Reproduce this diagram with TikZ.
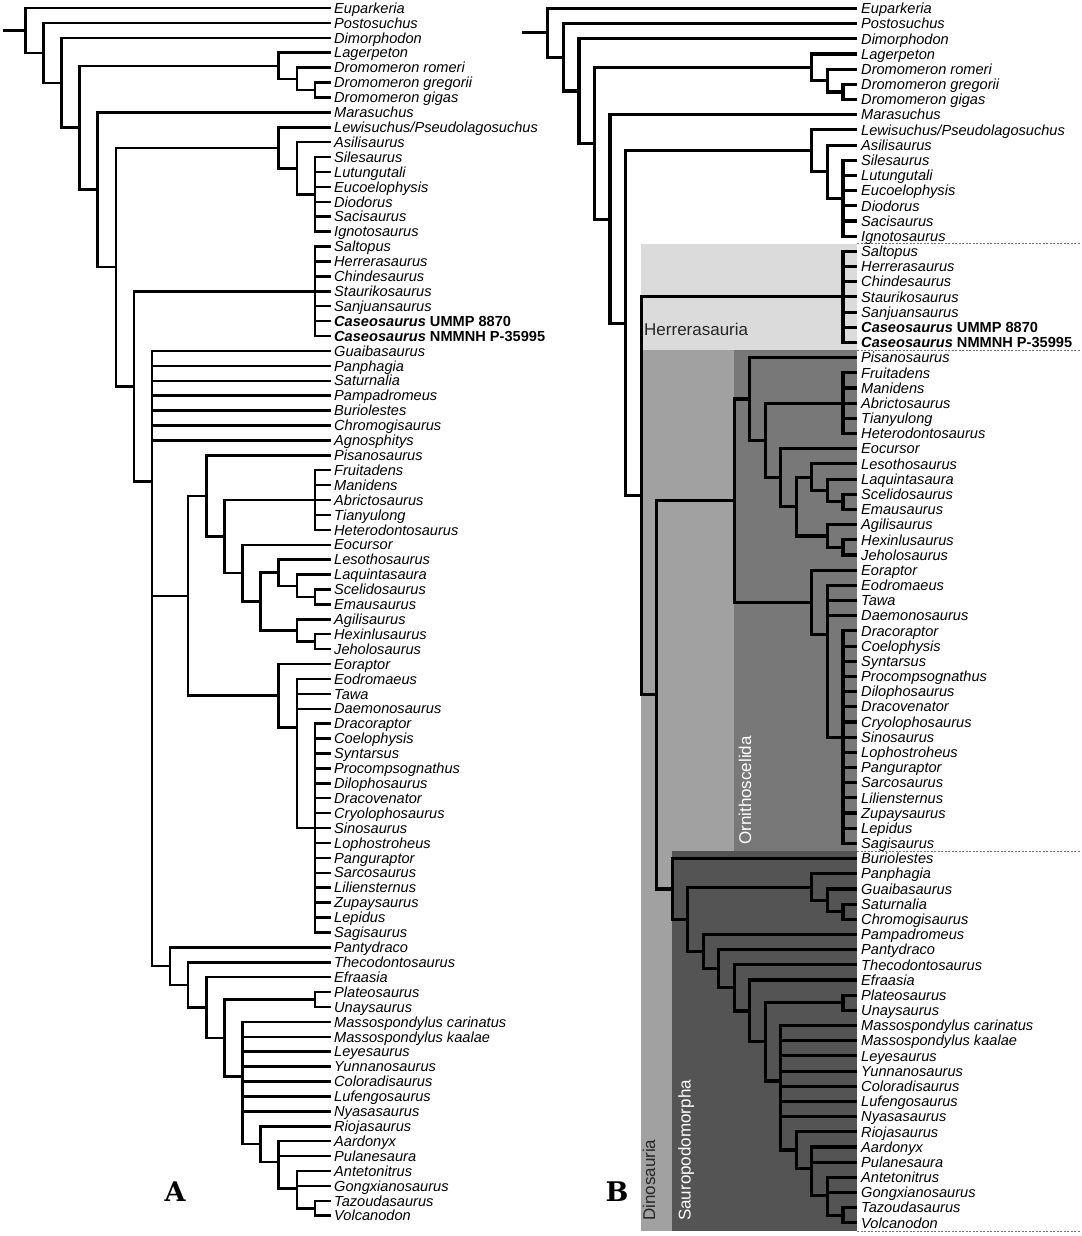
\documentclass[tikz,border=0pt]{standalone}
\usepackage{fontspec}
\setmainfont{Liberation Sans}
\newfontfamily\panelfont{DejaVu Serif}
\usepackage{tikz}
\definecolor{herrgray}{gray}{0.86}
\definecolor{dinogray}{gray}{0.63}
\definecolor{ornigray}{gray}{0.47}
\definecolor{saurgray}{gray}{0.33}
\newcommand{\casname}[1]{\textbf{Caseosaurus} \textup{\textbf{#1}}}

\begin{document}
\begin{tikzpicture}[x=1pt,y=-1pt]
  \tikzstyle{taxon}=[anchor=west,inner xsep=3pt,inner ysep=0pt,text height=10.4pt,text depth=0pt,font=\fontsize{14.6}{15}\selectfont\itshape]
  \tikzstyle{branch}=[line width=2.5pt]
  \tikzstyle{clade}=[inner sep=0pt,font=\fontsize{17}{17}\selectfont]
  \tikzstyle{groupline}=[black!55,line width=0.8pt,dash pattern=on 2pt off 1.5pt]
  \tikzstyle{panel}=[inner sep=0pt,font=\panelfont\bfseries\fontsize{27}{27}\selectfont]

  \useasboundingbox (0,0) rectangle (1081,1236);

  \fill[dinogray] (641.1,350) rectangle (857,1231);
  \fill[herrgray] (641.1,243.8) rectangle (857,350);
  \fill[ornigray] (734.3,350) rectangle (857,851);
  \fill[saurgray] (672.1,851) rectangle (857,1231);
  \draw[groupline] (857,243.8) -- (1081,243.8) (857,350) -- (1081,350)
                   (857,851) -- (1081,851) (857,1231.5) -- (1081,1231.5);

  \node[clade,anchor=base west,text=black!85] (herr) at (644,335) {Herrerasauria};
  \node[clade,anchor=base west,rotate=90,text=black!85] (dino) at (655,1221) {Dinosauria};
  \node[clade,anchor=base west,rotate=90,text=white] (saur) at (690.5,1221) {Sauropodomorpha};
  \node[clade,anchor=base west,rotate=90,text=white] (orni) at (751,845) {Ornithoscelida};

  \node[panel] (panA) at (175,1192) {A};
  \node[panel] (panB) at (617,1192) {B};

  %% tree A
  \begin{scope}[shift={(0,8)},y=-14.91pt]
  \node[taxon] (aEupa) at (331,0)  {Euparkeria};
  \node[taxon] (aPost) at (331,1)  {Postosuchus};
  \node[taxon] (aDimo) at (331,2)  {Dimorphodon};
  \node[taxon] (aLage) at (331,3)  {Lagerpeton};
  \node[taxon] (aDrRo) at (331,4)  {Dromomeron romeri};
  \node[taxon] (aDrGr) at (331,5)  {Dromomeron gregorii};
  \node[taxon] (aDrGi) at (331,6)  {Dromomeron gigas};
  \node[taxon] (aMara) at (331,7)  {Marasuchus};
  \node[taxon] (aLewi) at (331,8)  {Lewisuchus/Pseudolagosuchus};
  \node[taxon] (aAsil) at (331,9)  {Asilisaurus};
  \node[taxon] (aSile) at (331,10) {Silesaurus};
  \node[taxon] (aLutu) at (331,11) {Lutungutali};
  \node[taxon] (aEuco) at (331,12) {Eucoelophysis};
  \node[taxon] (aDiod) at (331,13) {Diodorus};
  \node[taxon] (aSaci) at (331,14) {Sacisaurus};
  \node[taxon] (aIgno) at (331,15) {Ignotosaurus};
  \node[taxon] (aSalt) at (331,16) {Saltopus};
  \node[taxon] (aHerr) at (331,17) {Herrerasaurus};
  \node[taxon] (aChin) at (331,18) {Chindesaurus};
  \node[taxon] (aStau) at (331,19) {Staurikosaurus};
  \node[taxon] (aSanj) at (331,20) {Sanjuansaurus};
  \node[taxon] (aCaUM) at (331,21) {\casname{UMMP 8870}};
  \node[taxon] (aCaNM) at (331,22) {\casname{NMMNH P-35995}};
  \node[taxon] (aGuai) at (331,23) {Guaibasaurus};
  \node[taxon] (aPanp) at (331,24) {Panphagia};
  \node[taxon] (aSatu) at (331,25) {Saturnalia};
  \node[taxon] (aPamp) at (331,26) {Pampadromeus};
  \node[taxon] (aBuri) at (331,27) {Buriolestes};
  \node[taxon] (aChro) at (331,28) {Chromogisaurus};
  \node[taxon] (aAgno) at (331,29) {Agnosphitys};
  \node[taxon] (aPisa) at (331,30) {Pisanosaurus};
  \node[taxon] (aFrui) at (331,31) {Fruitadens};
  \node[taxon] (aMani) at (331,32) {Manidens};
  \node[taxon] (aAbri) at (331,33) {Abrictosaurus};
  \node[taxon] (aTian) at (331,34) {Tianyulong};
  \node[taxon] (aHete) at (331,35) {Heterodontosaurus};
  \node[taxon] (aEocu) at (331,36) {Eocursor};
  \node[taxon] (aLeso) at (331,37) {Lesothosaurus};
  \node[taxon] (aLaqu) at (331,38) {Laquintasaura};
  \node[taxon] (aScel) at (331,39) {Scelidosaurus};
  \node[taxon] (aEmau) at (331,40) {Emausaurus};
  \node[taxon] (aAgil) at (331,41) {Agilisaurus};
  \node[taxon] (aHexi) at (331,42) {Hexinlusaurus};
  \node[taxon] (aJeho) at (331,43) {Jeholosaurus};
  \node[taxon] (aEora) at (331,44) {Eoraptor};
  \node[taxon] (aEodr) at (331,45) {Eodromaeus};
  \node[taxon] (aTawa) at (331,46) {Tawa};
  \node[taxon] (aDaem) at (331,47) {Daemonosaurus};
  \node[taxon] (aDrac) at (331,48) {Dracoraptor};
  \node[taxon] (aCoel) at (331,49) {Coelophysis};
  \node[taxon] (aSynt) at (331,50) {Syntarsus};
  \node[taxon] (aProc) at (331,51) {Procompsognathus};
  \node[taxon] (aDilo) at (331,52) {Dilophosaurus};
  \node[taxon] (aDrav) at (331,53) {Dracovenator};
  \node[taxon] (aCryo) at (331,54) {Cryolophosaurus};
  \node[taxon] (aSino) at (331,55) {Sinosaurus};
  \node[taxon] (aLoph) at (331,56) {Lophostroheus};
  \node[taxon] (aPang) at (331,57) {Panguraptor};
  \node[taxon] (aSarc) at (331,58) {Sarcosaurus};
  \node[taxon] (aLili) at (331,59) {Liliensternus};
  \node[taxon] (aZupa) at (331,60) {Zupaysaurus};
  \node[taxon] (aLepi) at (331,61) {Lepidus};
  \node[taxon] (aSagi) at (331,62) {Sagisaurus};
  \node[taxon] (aPant) at (331,63) {Pantydraco};
  \node[taxon] (aThec) at (331,64) {Thecodontosaurus};
  \node[taxon] (aEfra) at (331,65) {Efraasia};
  \node[taxon] (aPlat) at (331,66) {Plateosaurus};
  \node[taxon] (aUnay) at (331,67) {Unaysaurus};
  \node[taxon] (aMaCa) at (331,68) {Massospondylus carinatus};
  \node[taxon] (aMaKa) at (331,69) {Massospondylus kaalae};
  \node[taxon] (aLeye) at (331,70) {Leyesaurus};
  \node[taxon] (aYunn) at (331,71) {Yunnanosaurus};
  \node[taxon] (aColo) at (331,72) {Coloradisaurus};
  \node[taxon] (aLufe) at (331,73) {Lufengosaurus};
  \node[taxon] (aNyas) at (331,74) {Nyasasaurus};
  \node[taxon] (aRioj) at (331,75) {Riojasaurus};
  \node[taxon] (aAard) at (331,76) {Aardonyx};
  \node[taxon] (aPula) at (331,77) {Pulanesaura};
  \node[taxon] (aAnte) at (331,78) {Antetonitrus};
  \node[taxon] (aGong) at (331,79) {Gongxianosaurus};
  \node[taxon] (aTazo) at (331,80) {Tazoudasaurus};
  \node[taxon] (aVolc) at (331,81) {Volcanodon};

  \coordinate (aRoot)  at (3,1.50385);
  \coordinate (acN1)   at (25.3,1.50385);
  \coordinate (acN2)   at (43.4,3.0077);
  \coordinate (acN3)   at (61.5,5.0154);
  \coordinate (acN4)   at (79.6,8.0308);
  \coordinate (acLag)  at (278.7,3.875);
  \coordinate (acDro1) at (296.8,4.75);
  \coordinate (acDro2) at (314.9,5.5);
  \coordinate (acN5)   at (97.7,12.1866);
  \coordinate (acN6)   at (115.8,17.3732);
  \coordinate (acSil3) at (278.7,9.375);
  \coordinate (acSil2) at (296.8,10.75);
  \coordinate (acSil1) at (314.9,12.5);
  \coordinate (acN7)   at (133.9,25.3714);
  \coordinate (acHer)  at (314.9,19);
  \coordinate (acDin)  at (152.0,31.7428);
  \coordinate (acOrs)  at (188.2,39.4258);
  \coordinate (acOrn)  at (206.3,32.7266);
  \coordinate (acHeE)  at (224.4,35.4531);
  \coordinate (acHet)  at (314.9,33);
  \coordinate (acEoc)  at (242.5,37.9063);
  \coordinate (acGen)  at (260.6,39.8125);
  \coordinate (acLes)  at (278.7,37.875);
  \coordinate (acLaq)  at (296.8,38.75);
  \coordinate (acSce)  at (314.9,39.5);
  \coordinate (acAgi)  at (296.8,41.75);
  \coordinate (acHex)  at (314.9,42.5);
  \coordinate (acThe)  at (278.7,46.125);
  \coordinate (acEod)  at (296.8,48.25);
  \coordinate (acCoe)  at (314.9,55);
  \coordinate (acSau)  at (170.1,64.2593);
  \coordinate (acThc)  at (188.2,65.5187);
  \coordinate (acEfr)  at (206.3,67.0373);
  \coordinate (acPU)   at (224.4,69.0747);
  \coordinate (acPla)  at (314.9,66.5);
  \coordinate (acMas)  at (242.5,71.6493);
  \coordinate (acRio)  at (260.6,76.1944);
  \coordinate (acAar)  at (278.7,77.3889);
  \coordinate (acAnt)  at (296.8,79.1667);
  \coordinate (acTaz)  at (314.9,80.5);

  \draw[branch] (aRoot) -- (acN1);
  \draw[branch] (acN1) |- (aEupa) (acN1) |- (acN2);
  \draw[branch] (acN2) |- (aPost) (acN2) |- (acN3);
  \draw[branch] (acN3) |- (aDimo) (acN3) |- (acN4);
  \draw[branch] (acN4) |- (acLag) (acN4) |- (acN5);
  \draw[branch] (acLag) |- (aLage) (acLag) |- (acDro1);
  \draw[branch] (acDro1) |- (aDrRo) (acDro1) |- (acDro2);
  \draw[branch] (acDro2) |- (aDrGr) (acDro2) |- (aDrGi);
  \draw[branch] (acN5) |- (aMara) (acN5) |- (acN6);
  \draw[branch] (acN6) |- (acSil3) (acN6) |- (acN7);
  \draw[branch] (acSil3) |- (aLewi) (acSil3) |- (acSil2);
  \draw[branch] (acSil2) |- (aAsil) (acSil2) |- (acSil1);
  \draw[branch] (acSil1) |- (aSile) (acSil1) |- (aLutu) (acSil1) |- (aEuco)
                (acSil1) |- (aDiod) (acSil1) |- (aSaci) (acSil1) |- (aIgno);
  \draw[branch] (acN7) |- (acHer) (acN7) |- (acDin);
  \draw[branch] (acHer) |- (aSalt) (acHer) |- (aHerr) (acHer) |- (aChin) (acHer) |- (aStau)
                (acHer) |- (aSanj) (acHer) |- (aCaUM) (acHer) |- (aCaNM);
  \draw[branch] (acDin) |- (aGuai) (acDin) |- (aPanp) (acDin) |- (aSatu) (acDin) |- (aPamp)
                (acDin) |- (aBuri) (acDin) |- (aChro) (acDin) |- (aAgno)
                (acDin) |- (acOrs) (acDin) |- (acSau);
  \draw[branch] (acOrs) |- (acOrn) (acOrs) |- (acThe);
  \draw[branch] (acOrn) |- (aPisa) (acOrn) |- (acHeE);
  \draw[branch] (acHeE) |- (acHet) (acHeE) |- (acEoc);
  \draw[branch] (acHet) |- (aFrui) (acHet) |- (aMani) (acHet) |- (aAbri)
                (acHet) |- (aTian) (acHet) |- (aHete);
  \draw[branch] (acEoc) |- (aEocu) (acEoc) |- (acGen);
  \draw[branch] (acGen) |- (acLes) (acGen) |- (acAgi);
  \draw[branch] (acLes) |- (aLeso) (acLes) |- (acLaq);
  \draw[branch] (acLaq) |- (aLaqu) (acLaq) |- (acSce);
  \draw[branch] (acSce) |- (aScel) (acSce) |- (aEmau);
  \draw[branch] (acAgi) |- (aAgil) (acAgi) |- (acHex);
  \draw[branch] (acHex) |- (aHexi) (acHex) |- (aJeho);
  \draw[branch] (acThe) |- (aEora) (acThe) |- (acEod);
  \draw[branch] (acEod) |- (aEodr) (acEod) |- (aTawa) (acEod) |- (aDaem) (acEod) |- (acCoe);
  \draw[branch] (acCoe) |- (aDrac) (acCoe) |- (aCoel) (acCoe) |- (aSynt) (acCoe) |- (aProc)
                (acCoe) |- (aDilo) (acCoe) |- (aDrav) (acCoe) |- (aCryo) (acCoe) |- (aSino)
                (acCoe) |- (aLoph) (acCoe) |- (aPang) (acCoe) |- (aSarc) (acCoe) |- (aLili)
                (acCoe) |- (aZupa) (acCoe) |- (aLepi) (acCoe) |- (aSagi);
  \draw[branch] (acSau) |- (aPant) (acSau) |- (acThc);
  \draw[branch] (acThc) |- (aThec) (acThc) |- (acEfr);
  \draw[branch] (acEfr) |- (aEfra) (acEfr) |- (acPU);
  \draw[branch] (acPU) |- (acPla) (acPU) |- (acMas);
  \draw[branch] (acPla) |- (aPlat) (acPla) |- (aUnay);
  \draw[branch] (acMas) |- (aMaCa) (acMas) |- (aMaKa) (acMas) |- (aLeye) (acMas) |- (aYunn)
                (acMas) |- (aColo) (acMas) |- (aLufe) (acMas) |- (aNyas) (acMas) |- (acRio);
  \draw[branch] (acRio) |- (aRioj) (acRio) |- (acAar);
  \draw[branch] (acAar) |- (aAard) (acAar) |- (aPula) (acAar) |- (acAnt);
  \draw[branch] (acAnt) |- (aAnte) (acAnt) |- (aGong) (acAnt) |- (acTaz);
  \draw[branch] (acTaz) |- (aTazo) (acTaz) |- (aVolc);
  \end{scope}

  %% tree B
  \begin{scope}[shift={(0,8.5)},y=-15.18pt,branch/.append style={line width=3.1pt},taxon/.append style={inner xsep=4pt}]
  \node[taxon] (bEupa) at (857,0)  {Euparkeria};
  \node[taxon] (bPost) at (857,1)  {Postosuchus};
  \node[taxon] (bDimo) at (857,2)  {Dimorphodon};
  \node[taxon] (bLage) at (857,3)  {Lagerpeton};
  \node[taxon] (bDrRo) at (857,4)  {Dromomeron romeri};
  \node[taxon] (bDrGr) at (857,5)  {Dromomeron gregorii};
  \node[taxon] (bDrGi) at (857,6)  {Dromomeron gigas};
  \node[taxon] (bMara) at (857,7)  {Marasuchus};
  \node[taxon] (bLewi) at (857,8)  {Lewisuchus/Pseudolagosuchus};
  \node[taxon] (bAsil) at (857,9)  {Asilisaurus};
  \node[taxon] (bSile) at (857,10) {Silesaurus};
  \node[taxon] (bLutu) at (857,11) {Lutungutali};
  \node[taxon] (bEuco) at (857,12) {Eucoelophysis};
  \node[taxon] (bDiod) at (857,13) {Diodorus};
  \node[taxon] (bSaci) at (857,14) {Sacisaurus};
  \node[taxon] (bIgno) at (857,15) {Ignotosaurus};
  \node[taxon] (bSalt) at (857,16) {Saltopus};
  \node[taxon] (bHerr) at (857,17) {Herrerasaurus};
  \node[taxon] (bChin) at (857,18) {Chindesaurus};
  \node[taxon] (bStau) at (857,19) {Staurikosaurus};
  \node[taxon] (bSanj) at (857,20) {Sanjuansaurus};
  \node[taxon] (bCaUM) at (857,21) {\casname{UMMP 8870}};
  \node[taxon] (bCaNM) at (857,22) {\casname{NMMNH P-35995}};
  \node[taxon] (bPisa) at (857,23) {Pisanosaurus};
  \node[taxon] (bFrui) at (857,24) {Fruitadens};
  \node[taxon] (bMani) at (857,25) {Manidens};
  \node[taxon] (bAbri) at (857,26) {Abrictosaurus};
  \node[taxon] (bTian) at (857,27) {Tianyulong};
  \node[taxon] (bHete) at (857,28) {Heterodontosaurus};
  \node[taxon] (bEocu) at (857,29) {Eocursor};
  \node[taxon] (bLeso) at (857,30) {Lesothosaurus};
  \node[taxon] (bLaqu) at (857,31) {Laquintasaura};
  \node[taxon] (bScel) at (857,32) {Scelidosaurus};
  \node[taxon] (bEmau) at (857,33) {Emausaurus};
  \node[taxon] (bAgil) at (857,34) {Agilisaurus};
  \node[taxon] (bHexi) at (857,35) {Hexinlusaurus};
  \node[taxon] (bJeho) at (857,36) {Jeholosaurus};
  \node[taxon] (bEora) at (857,37) {Eoraptor};
  \node[taxon] (bEodr) at (857,38) {Eodromaeus};
  \node[taxon] (bTawa) at (857,39) {Tawa};
  \node[taxon] (bDaem) at (857,40) {Daemonosaurus};
  \node[taxon] (bDrac) at (857,41) {Dracoraptor};
  \node[taxon] (bCoel) at (857,42) {Coelophysis};
  \node[taxon] (bSynt) at (857,43) {Syntarsus};
  \node[taxon] (bProc) at (857,44) {Procompsognathus};
  \node[taxon] (bDilo) at (857,45) {Dilophosaurus};
  \node[taxon] (bDrav) at (857,46) {Dracovenator};
  \node[taxon] (bCryo) at (857,47) {Cryolophosaurus};
  \node[taxon] (bSino) at (857,48) {Sinosaurus};
  \node[taxon] (bLoph) at (857,49) {Lophostroheus};
  \node[taxon] (bPang) at (857,50) {Panguraptor};
  \node[taxon] (bSarc) at (857,51) {Sarcosaurus};
  \node[taxon] (bLili) at (857,52) {Liliensternus};
  \node[taxon] (bZupa) at (857,53) {Zupaysaurus};
  \node[taxon] (bLepi) at (857,54) {Lepidus};
  \node[taxon] (bSagi) at (857,55) {Sagisaurus};
  \node[taxon] (bBuri) at (857,56) {Buriolestes};
  \node[taxon] (bPanp) at (857,57) {Panphagia};
  \node[taxon] (bGuai) at (857,58) {Guaibasaurus};
  \node[taxon] (bSatu) at (857,59) {Saturnalia};
  \node[taxon] (bChro) at (857,60) {Chromogisaurus};
  \node[taxon] (bPamp) at (857,61) {Pampadromeus};
  \node[taxon] (bPant) at (857,62) {Pantydraco};
  \node[taxon] (bThec) at (857,63) {Thecodontosaurus};
  \node[taxon] (bEfra) at (857,64) {Efraasia};
  \node[taxon] (bPlat) at (857,65) {Plateosaurus};
  \node[taxon] (bUnay) at (857,66) {Unaysaurus};
  \node[taxon] (bMaCa) at (857,67) {Massospondylus carinatus};
  \node[taxon] (bMaKa) at (857,68) {Massospondylus kaalae};
  \node[taxon] (bLeye) at (857,69) {Leyesaurus};
  \node[taxon] (bYunn) at (857,70) {Yunnanosaurus};
  \node[taxon] (bColo) at (857,71) {Coloradisaurus};
  \node[taxon] (bLufe) at (857,72) {Lufengosaurus};
  \node[taxon] (bNyas) at (857,73) {Nyasasaurus};
  \node[taxon] (bRioj) at (857,74) {Riojasaurus};
  \node[taxon] (bAard) at (857,75) {Aardonyx};
  \node[taxon] (bPula) at (857,76) {Pulanesaura};
  \node[taxon] (bAnte) at (857,77) {Antetonitrus};
  \node[taxon] (bGong) at (857,78) {Gongxianosaurus};
  \node[taxon] (bTazo) at (857,79) {Tazoudasaurus};
  \node[taxon] (bVolc) at (857,80) {Volcanodon};

  \coordinate (bRoot)  at (522,1.60909);
  \coordinate (bcN1)   at (547.9,1.60909);
  \coordinate (bcN2)   at (563.4,3.21818);
  \coordinate (bcN3)   at (579.0,5.43636);
  \coordinate (bcN4)   at (594.5,8.87272);
  \coordinate (bcLag)  at (811.9,3.875);
  \coordinate (bcDro1) at (827.4,4.75);
  \coordinate (bcDro2) at (843.0,5.5);
  \coordinate (bcN5)   at (610.0,13.87044);
  \coordinate (bcN6)   at (625.6,20.74087);
  \coordinate (bcSil3) at (811.9,9.375);
  \coordinate (bcSil2) at (827.4,10.75);
  \coordinate (bcSil1) at (843.0,12.5);
  \coordinate (bcN7)   at (641.1,32.10674);
  \coordinate (bcHer)  at (843.0,19);
  \coordinate (bcDin)  at (656.6,45.21347);
  \coordinate (bcOrs)  at (734.3,32.42578);
  \coordinate (bcOrn)  at (749.8,25.72656);
  \coordinate (bcHeE)  at (765.3,28.45313);
  \coordinate (bcHet)  at (843.0,26);
  \coordinate (bcEoc)  at (780.9,30.90625);
  \coordinate (bcGen)  at (796.4,32.8125);
  \coordinate (bcLes)  at (811.9,30.875);
  \coordinate (bcLaq)  at (827.4,31.75);
  \coordinate (bcSce)  at (843.0,32.5);
  \coordinate (bcAgi)  at (827.4,34.75);
  \coordinate (bcHex)  at (843.0,35.5);
  \coordinate (bcThe)  at (811.9,39.125);
  \coordinate (bcEod)  at (827.4,41.25);
  \coordinate (bcCoe)  at (843.0,48);
  \coordinate (bcSau)  at (672.1,58.00117);
  \coordinate (bcPhg)  at (687.7,60.00233);
  \coordinate (bcPan)  at (811.9,57.875);
  \coordinate (bcGua)  at (827.4,58.75);
  \coordinate (bcSat)  at (843.0,59.5);
  \coordinate (bcPam)  at (703.2,62.12967);
  \coordinate (bcPty)  at (718.7,63.25933);
  \coordinate (bcThc)  at (734.3,64.51866);
  \coordinate (bcEfr)  at (749.8,66.03733);
  \coordinate (bcPU)   at (765.3,68.07465);
  \coordinate (bcPla)  at (843.0,65.5);
  \coordinate (bcMas)  at (780.9,70.64931);
  \coordinate (bcRio)  at (796.4,75.19444);
  \coordinate (bcAar)  at (811.9,76.38889);
  \coordinate (bcAnt)  at (827.4,78.16667);
  \coordinate (bcTaz)  at (843.0,79.5);

  \draw[branch] (bRoot) -- (bcN1);
  \draw[branch] (bcN1) |- (bEupa) (bcN1) |- (bcN2);
  \draw[branch] (bcN2) |- (bPost) (bcN2) |- (bcN3);
  \draw[branch] (bcN3) |- (bDimo) (bcN3) |- (bcN4);
  \draw[branch] (bcN4) |- (bcLag) (bcN4) |- (bcN5);
  \draw[branch] (bcLag) |- (bLage) (bcLag) |- (bcDro1);
  \draw[branch] (bcDro1) |- (bDrRo) (bcDro1) |- (bcDro2);
  \draw[branch] (bcDro2) |- (bDrGr) (bcDro2) |- (bDrGi);
  \draw[branch] (bcN5) |- (bMara) (bcN5) |- (bcN6);
  \draw[branch] (bcN6) |- (bcSil3) (bcN6) |- (bcN7);
  \draw[branch] (bcSil3) |- (bLewi) (bcSil3) |- (bcSil2);
  \draw[branch] (bcSil2) |- (bAsil) (bcSil2) |- (bcSil1);
  \draw[branch] (bcSil1) |- (bSile) (bcSil1) |- (bLutu) (bcSil1) |- (bEuco)
                (bcSil1) |- (bDiod) (bcSil1) |- (bSaci) (bcSil1) |- (bIgno);
  \draw[branch] (bcN7) |- (bcHer) (bcN7) |- (bcDin);
  \draw[branch] (bcHer) |- (bSalt) (bcHer) |- (bHerr) (bcHer) |- (bChin) (bcHer) |- (bStau)
                (bcHer) |- (bSanj) (bcHer) |- (bCaUM) (bcHer) |- (bCaNM);
  \draw[branch] (bcDin) |- (bcOrs) (bcDin) |- (bcSau);
  \draw[branch] (bcOrs) |- (bcOrn) (bcOrs) |- (bcThe);
  \draw[branch] (bcOrn) |- (bPisa) (bcOrn) |- (bcHeE);
  \draw[branch] (bcHeE) |- (bcHet) (bcHeE) |- (bcEoc);
  \draw[branch] (bcHet) |- (bFrui) (bcHet) |- (bMani) (bcHet) |- (bAbri)
                (bcHet) |- (bTian) (bcHet) |- (bHete);
  \draw[branch] (bcEoc) |- (bEocu) (bcEoc) |- (bcGen);
  \draw[branch] (bcGen) |- (bcLes) (bcGen) |- (bcAgi);
  \draw[branch] (bcLes) |- (bLeso) (bcLes) |- (bcLaq);
  \draw[branch] (bcLaq) |- (bLaqu) (bcLaq) |- (bcSce);
  \draw[branch] (bcSce) |- (bScel) (bcSce) |- (bEmau);
  \draw[branch] (bcAgi) |- (bAgil) (bcAgi) |- (bcHex);
  \draw[branch] (bcHex) |- (bHexi) (bcHex) |- (bJeho);
  \draw[branch] (bcThe) |- (bEora) (bcThe) |- (bcEod);
  \draw[branch] (bcEod) |- (bEodr) (bcEod) |- (bTawa) (bcEod) |- (bDaem) (bcEod) |- (bcCoe);
  \draw[branch] (bcCoe) |- (bDrac) (bcCoe) |- (bCoel) (bcCoe) |- (bSynt) (bcCoe) |- (bProc)
                (bcCoe) |- (bDilo) (bcCoe) |- (bDrav) (bcCoe) |- (bCryo) (bcCoe) |- (bSino)
                (bcCoe) |- (bLoph) (bcCoe) |- (bPang) (bcCoe) |- (bSarc) (bcCoe) |- (bLili)
                (bcCoe) |- (bZupa) (bcCoe) |- (bLepi) (bcCoe) |- (bSagi);
  \draw[branch] (bcSau) |- (bBuri) (bcSau) |- (bcPhg);
  \draw[branch] (bcPhg) |- (bcPan) (bcPhg) |- (bcPam);
  \draw[branch] (bcPan) |- (bPanp) (bcPan) |- (bcGua);
  \draw[branch] (bcGua) |- (bGuai) (bcGua) |- (bcSat);
  \draw[branch] (bcSat) |- (bSatu) (bcSat) |- (bChro);
  \draw[branch] (bcPam) |- (bPamp) (bcPam) |- (bcPty);
  \draw[branch] (bcPty) |- (bPant) (bcPty) |- (bcThc);
  \draw[branch] (bcThc) |- (bThec) (bcThc) |- (bcEfr);
  \draw[branch] (bcEfr) |- (bEfra) (bcEfr) |- (bcPU);
  \draw[branch] (bcPU) |- (bcPla) (bcPU) |- (bcMas);
  \draw[branch] (bcPla) |- (bPlat) (bcPla) |- (bUnay);
  \draw[branch] (bcMas) |- (bMaCa) (bcMas) |- (bMaKa) (bcMas) |- (bLeye) (bcMas) |- (bYunn)
                (bcMas) |- (bColo) (bcMas) |- (bLufe) (bcMas) |- (bNyas) (bcMas) |- (bcRio);
  \draw[branch] (bcRio) |- (bRioj) (bcRio) |- (bcAar);
  \draw[branch] (bcAar) |- (bAard) (bcAar) |- (bPula) (bcAar) |- (bcAnt);
  \draw[branch] (bcAnt) |- (bAnte) (bcAnt) |- (bGong) (bcAnt) |- (bcTaz);
  \draw[branch] (bcTaz) |- (bTazo) (bcTaz) |- (bVolc);
  \end{scope}
\end{tikzpicture}
\end{document}
